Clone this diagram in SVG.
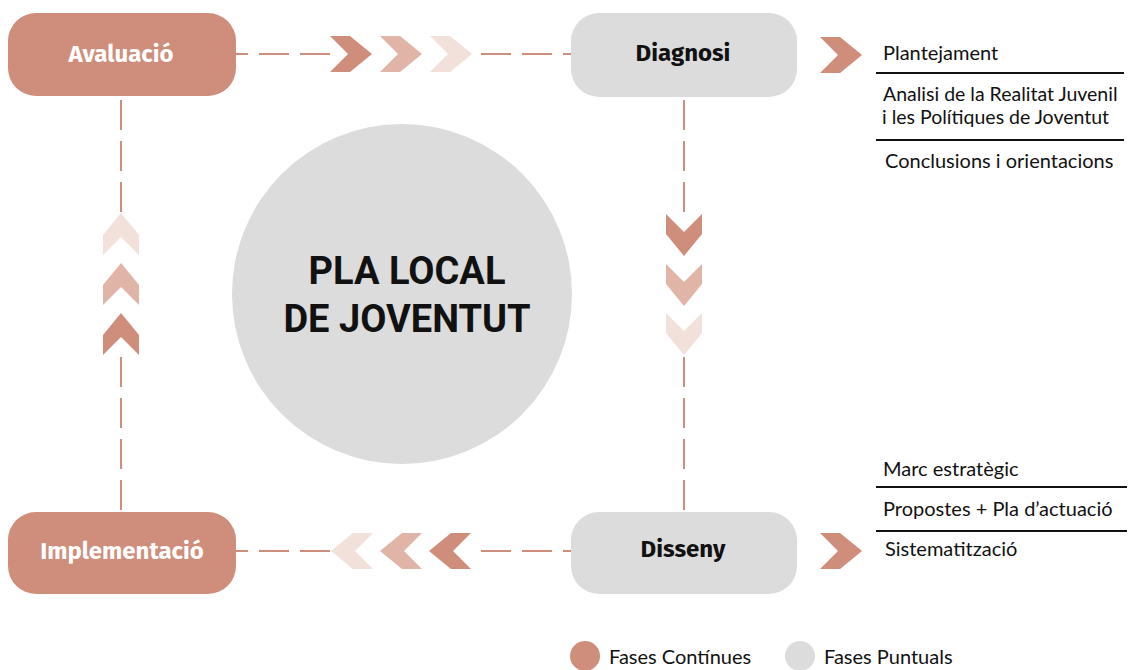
<svg xmlns="http://www.w3.org/2000/svg" xmlns:xlink="http://www.w3.org/1999/xlink" width="1139" height="670" viewBox="0 0 1139 670">
<style>
.cont{fill:#cf8d7b}
.punt{fill:#dcdcdc}
.c1{fill:#cf8d7b}
.c2{fill:#e0b5a8}
.c3{fill:#f2e0db}
.dash{stroke:#cf8d7b;stroke-width:2;stroke-dasharray:30 11;fill:none}
.hd{font-family:"Fira Sans","Liberation Sans",sans-serif;font-weight:bold;font-size:24px;text-anchor:middle}
.wt{fill:#ffffff}
.bk{fill:#111111}
.big{font-family:Roboto,"Liberation Sans",sans-serif;font-weight:bold;font-size:38px;text-anchor:middle;fill:#111}
.li{font-family:"Lato","Liberation Sans",sans-serif;font-size:20px;fill:#111}
.sm{font-size:19.5px}
.sep{stroke:#111;stroke-width:2}
</style>
<defs>
<polygon id="chev" points="-21,-18 -1,-18 21,0 -1,18 -21,18 -3,0"/>
</defs>
<g id="connectors">
<line class="dash" x1="330" y1="54" x2="236" y2="54"/>
<line class="dash" x1="481" y1="54" x2="571" y2="54"/>
<line class="dash" x1="330" y1="551" x2="236" y2="551"/>
<line class="dash" x1="481" y1="551" x2="571" y2="551"/>
<line class="dash" x1="121" y1="212" x2="121" y2="96"/>
<line class="dash" x1="121" y1="357" x2="121" y2="512"/>
<line class="dash" x1="684" y1="212" x2="684" y2="97"/>
<line class="dash" x1="684" y1="357" x2="684" y2="512"/>
<use xlink:href="#chev" class="c1" transform="translate(351,54)"/>
<use xlink:href="#chev" class="c2" transform="translate(401,54)"/>
<use xlink:href="#chev" class="c3" transform="translate(451,54)"/>
<use xlink:href="#chev" class="c3" transform="translate(352,551) rotate(180)"/>
<use xlink:href="#chev" class="c2" transform="translate(401,551) rotate(180)"/>
<use xlink:href="#chev" class="c1" transform="translate(450,551) rotate(180)"/>
<use xlink:href="#chev" class="c3" transform="translate(121,234) rotate(-90)"/>
<use xlink:href="#chev" class="c2" transform="translate(121,284) rotate(-90)"/>
<use xlink:href="#chev" class="c1" transform="translate(121,334) rotate(-90)"/>
<use xlink:href="#chev" class="c1" transform="translate(684,235) rotate(90)"/>
<use xlink:href="#chev" class="c2" transform="translate(684,285) rotate(90)"/>
<use xlink:href="#chev" class="c3" transform="translate(684,334) rotate(90)"/>
<use xlink:href="#chev" class="c1" transform="translate(841,55)"/>
<use xlink:href="#chev" class="c1" transform="translate(841,551)"/>
</g>
<g id="center">
<circle class="punt" cx="402" cy="294" r="170"/>
<text class="big" x="407" y="284">PLA LOCAL</text>
<text class="big" x="407" y="332">DE JOVENTUT</text>
</g>
<g id="avaluacio">
<rect class="cont" x="8" y="13" width="228" height="83" rx="28"/>
<text class="hd wt" x="121" y="62">Avaluació</text>
</g>
<g id="diagnosi">
<rect class="punt" x="571" y="13" width="226" height="84" rx="28"/>
<text class="hd bk" x="683" y="61">Diagnosi</text>
</g>
<g id="implementacio">
<rect class="cont" x="8" y="512" width="228" height="82" rx="28"/>
<text class="hd wt" x="122" y="559">Implementació</text>
</g>
<g id="disseny">
<rect class="punt" x="571" y="512" width="226" height="82" rx="28"/>
<text class="hd bk" x="683" y="557">Disseny</text>
</g>
<g id="diagnosi-list">
<text class="li" x="883" y="60">Plantejament</text>
<line class="sep" x1="876" y1="73" x2="1124" y2="73"/>
<text class="li sm" x="883" y="101">Analisi de la Realitat Juvenil</text>
<text class="li sm" x="882" y="124">i les Polítiques de Joventut</text>
<line class="sep" x1="876" y1="140" x2="1124" y2="140"/>
<text class="li" x="885" y="168">Conclusions i orientacions</text>
</g>
<g id="disseny-list">
<text class="li" x="883" y="476">Marc estratègic</text>
<line class="sep" x1="876" y1="487" x2="1127" y2="487"/>
<text class="li" x="883" y="516">Propostes + Pla d’actuació</text>
<line class="sep" x1="876" y1="531" x2="1127" y2="531"/>
<text class="li" x="885" y="556">Sistematització</text>
</g>
<g id="legend">
<circle class="cont" cx="585" cy="656" r="15"/>
<text class="li" x="609" y="664">Fases Contínues</text>
<circle class="punt" cx="800" cy="656" r="15"/>
<text class="li" x="824" y="664">Fases Puntuals</text>
</g>
</svg>
